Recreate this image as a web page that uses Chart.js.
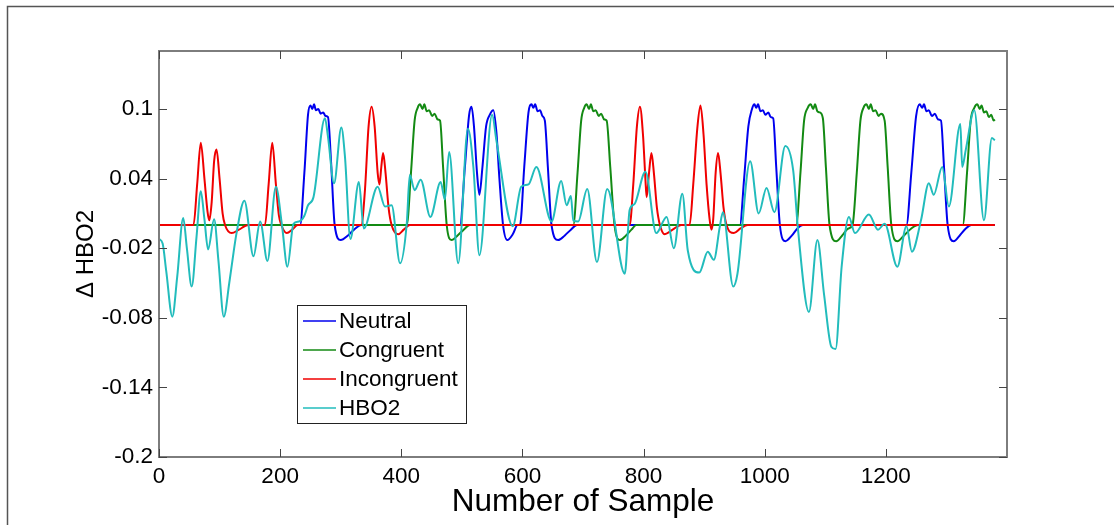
<!DOCTYPE html>
<html lang="en">
<head>
<meta charset="UTF-8">
<title>Δ HBO2 by sample</title>
<script src="https://cdn.jsdelivr.net/npm/chart.js@4"></script>
<style>
  body { margin: 0; background: #fff; }
  canvas { display: block; }
</style>
</head>
<body>
<canvas id="hboChart" width="1114" height="525"></canvas>
<script>
// tick values on both axes
const xTicks = [0, 200, 400, 600, 800, 1000, 1200];
const yTicks = [-0.2, -0.14, -0.08, -0.02, 0.04, 0.1];

const seriesNames = ['Neutral', 'Congruent', 'Incongruent', 'HBO2'];
const seriesColors = ['#0000ee', '#138a13', '#f00000', '#22bcbc'];

// [sample, value] pairs
const neutral = [
  [0, 0], [233, 0], [240, 0.045], [246, 0.095], [250, 0.103], [253, 0.100], [256, 0.104], [259, 0.099],
  [263, 0.100], [267, 0.096], [271, 0.097], [275, 0.094], [279, 0.093], [284, 0.055], [290, 0],
  [300, -0.013], [312, -0.009], [322, -0.004], [334, 0],
  [497, 0], [505, 0.05], [512, 0.095], [516, 0.102], [520, 0.085], [525, 0.045], [529, 0.026], [534, 0.05],
  [540, 0.085], [546, 0.095], [552, 0.099], [557, 0.08], [562, 0.04], [568, 0], [575, -0.013], [584, -0.008], [592, 0],
  [596, 0], [603, 0.05], [610, 0.097], [615, 0.104], [618, 0.101], [621, 0.104], [625, 0.098], [629, 0.099],
  [633, 0.094], [637, 0.090], [642, 0.05], [648, 0], [659, -0.013], [670, -0.009], [680, -0.004], [690, 0],
  [959, 0], [966, 0.04], [973, 0.085], [979, 0.1], [983, 0.104], [986, 0.101], [989, 0.104], [993, 0.098],
  [997, 0.099], [1001, 0.095], [1006, 0.097], [1010, 0.093], [1014, 0.092], [1019, 0.05], [1025, 0],
  [1034, -0.014], [1045, -0.009], [1054, -0.003], [1063, 0],
  [1234, 0], [1242, 0.045], [1250, 0.094], [1256, 0.104], [1260, 0.101], [1263, 0.104], [1267, 0.098],
  [1271, 0.099], [1276, 0.094], [1281, 0.096], [1286, 0.091], [1291, 0.090], [1296, 0.05], [1302, 0],
  [1312, -0.014], [1322, -0.009], [1332, -0.003], [1341, 0], [1380, 0]
];

const congruent = [
  [0, 0], [409, 0], [416, 0.045], [422, 0.09], [427, 0.101], [431, 0.104], [435, 0.100], [438, 0.104],
  [442, 0.098], [446, 0.099], [451, 0.094], [455, 0.096], [460, 0.091], [464, 0.090], [469, 0.05], [475, 0],
  [483, -0.013], [493, -0.009], [503, -0.004], [513, 0],
  [684, 0], [691, 0.045], [697, 0.09], [702, 0.101], [706, 0.104], [710, 0.100], [713, 0.104], [717, 0.098],
  [721, 0.099], [726, 0.094], [730, 0.096], [735, 0.091], [739, 0.090], [745, 0.05], [752, 0],
  [761, -0.013], [771, -0.009], [780, -0.004], [788, 0],
  [1052, 0], [1059, 0.045], [1065, 0.09], [1071, 0.101], [1076, 0.104], [1080, 0.100], [1083, 0.104],
  [1087, 0.098], [1091, 0.097], [1096, 0.092], [1101, 0.05], [1107, 0], [1118, -0.014], [1128, -0.009],
  [1138, -0.003], [1145, 0],
  [1152, 0.045], [1158, 0.09], [1163, 0.101], [1168, 0.104], [1172, 0.100], [1175, 0.104], [1179, 0.098],
  [1183, 0.099], [1188, 0.094], [1192, 0.096], [1198, 0.090], [1203, 0.05], [1209, 0], [1219, -0.014],
  [1230, -0.009], [1242, -0.003], [1253, 0],
  [1327, 0], [1334, 0.045], [1340, 0.09], [1346, 0.101], [1351, 0.104], [1355, 0.100], [1358, 0.103],
  [1362, 0.097], [1366, 0.098], [1370, 0.093], [1374, 0.095], [1378, 0.090], [1380, 0.091]
];

const incongruent = [
  [0, 0], [57, 0], [63, 0.035], [69, 0.071], [75, 0.04], [80, 0.012], [83, 0.004], [87, 0.02], [91, 0.055],
  [95, 0.065], [100, 0.04], [105, 0.01], [109, 0], [120, -0.007], [132, -0.004], [147, 0],
  [175, 0], [181, 0.035], [187, 0.071], [193, 0.035], [198, 0.008], [202, 0], [211, -0.007], [220, -0.004], [229, 0],
  [334, 0], [340, 0.03], [346, 0.085], [351, 0.102], [356, 0.085], [361, 0.045], [364, 0.035], [367, 0.05],
  [370, 0.062], [374, 0.045], [379, 0.015], [384, 0], [395, -0.008], [404, -0.004], [414, 0],
  [777, 0], [783, 0.035], [789, 0.085], [794, 0.102], [799, 0.078], [803, 0.04], [805, 0.024], [809, 0.045],
  [813, 0.062], [817, 0.045], [822, 0.015], [827, 0], [835, -0.008], [848, -0.004], [862, 0],
  [876, 0], [882, 0.035], [889, 0.085], [894, 0.103], [899, 0.078], [904, 0.035], [909, 0.005], [912, -0.004],
  [915, 0.005], [919, 0.045], [923, 0.062], [927, 0.045], [932, 0.015], [937, 0], [949, -0.007], [960, -0.003],
  [972, 0], [1380, 0]
];

const hbo2 = [
  [0, -0.012], [6, -0.016], [12, -0.04], [22, -0.079], [30, -0.045], [40, 0.006], [46, -0.02], [54, -0.053],
  [62, -0.01], [69, 0.029], [75, 0.005], [81, -0.021], [91, 0.005], [98, -0.03], [107, -0.079], [116, -0.05],
  [123, -0.024], [128, -0.007], [141, 0.021], [156, -0.027], [167, 0.003], [179, -0.031], [193, 0.033],
  [203, 0.0], [212, -0.036], [222, 0.001], [231, 0.003], [240, 0.008], [246, 0.017], [255, 0.024],
  [274, 0.092], [279, 0.076], [289, 0.036], [301, 0.084], [307, 0.059], [316, -0.012], [330, 0.037],
  [338, -0.003], [361, 0.033], [373, 0.016], [384, 0.017], [398, -0.033], [409, 0.001], [414, 0.043],
  [422, 0.030], [432, 0.039], [448, 0.007], [465, 0.037], [472, 0.022], [479, 0.063], [494, -0.033],
  [510, 0.083], [519, 0.050], [529, -0.026], [550, 0.095], [557, 0.073], [584, -0.001], [598, 0.033],
  [610, 0.035], [623, 0.050], [648, 0.003], [664, 0.038], [673, 0.017], [680, 0.025], [684, 0.004],
  [692, 0.003], [707, 0.031], [723, -0.032], [740, 0.031], [769, -0.042], [777, 0.013], [785, 0.018],
  [803, 0.046], [821, -0.007], [838, 0.007], [850, -0.020], [864, 0.027], [873, -0.022], [892, -0.041],
  [906, -0.023], [916, -0.030], [926, -0.001], [931, 0.011], [948, -0.053], [955, -0.042], [976, 0.055],
  [990, 0.010], [1003, 0.032], [1016, 0.011], [1034, 0.068], [1047, 0.047], [1055, -0.004], [1073, -0.075],
  [1087, -0.013], [1098, -0.06], [1110, -0.105], [1117, -0.107], [1127, -0.036], [1139, 0.007],
  [1149, -0.007], [1172, 0.009], [1187, -0.004], [1198, 0.001], [1219, -0.036], [1234, -0.001],
  [1243, -0.023], [1258, 0.004], [1271, 0.036], [1279, 0.026], [1293, 0.050], [1304, 0.016], [1323, 0.087],
  [1326, 0.050], [1332, 0.065], [1346, 0.099], [1362, 0.004], [1375, 0.075], [1380, 0.073]
];

const seriesData = [neutral, congruent, incongruent, hbo2];
const FONT = '"Liberation Sans", Arial, sans-serif';

// MATLAB-ish axes: box, inward ticks on all sides, legend inside the plot, figure frame
const matlabAxes = {
  id: 'matlabAxes',
  afterDraw(chart) {
    const { ctx, chartArea: a, scales: { x, y } } = chart;
    ctx.save();
    ctx.strokeStyle = '#555';
    ctx.lineWidth = 1.5;
    ctx.strokeRect(7.5, 6.5, 1200, 600);

    ctx.strokeStyle = '#7d7d7d';
    ctx.lineWidth = 2;
    ctx.strokeRect(a.left, a.top, a.right - a.left, a.bottom - a.top);

    ctx.lineWidth = 1;
    ctx.strokeStyle = '#444';
    ctx.beginPath();
    xTicks.forEach(v => {
      const px = Math.round(x.getPixelForValue(v)) + 0.5;
      ctx.moveTo(px, a.bottom); ctx.lineTo(px, a.bottom - 8);
      ctx.moveTo(px, a.top); ctx.lineTo(px, a.top + 8);
    });
    yTicks.forEach(v => {
      const py = Math.round(y.getPixelForValue(v)) + 0.5;
      ctx.moveTo(a.left, py); ctx.lineTo(a.left + 8, py);
      ctx.moveTo(a.right, py); ctx.lineTo(a.right - 8, py);
    });
    ctx.stroke();

    // legend box
    const lx = a.left + 138, ly = a.top + 254, lw = 169, lh = 118, row = 29;
    ctx.fillStyle = '#fff';
    ctx.fillRect(lx, ly, lw, lh);
    ctx.strokeStyle = '#222';
    ctx.lineWidth = 1;
    ctx.strokeRect(lx + 0.5, ly + 0.5, lw, lh);
    ctx.font = '22.5px ' + FONT;
    ctx.textBaseline = 'middle';
    ctx.textAlign = 'left';
    seriesNames.forEach((name, i) => {
      const cy = ly + 16 + i * row;
      ctx.strokeStyle = seriesColors[i];
      ctx.lineWidth = 1.5;
      ctx.beginPath();
      ctx.moveTo(lx + 6, cy); ctx.lineTo(lx + 39, cy);
      ctx.stroke();
      ctx.fillStyle = '#000';
      ctx.fillText(name, lx + 42, cy + 1);
    });
    ctx.restore();
  }
};

new Chart(document.getElementById('hboChart'), {
  type: 'line',
  data: {
    datasets: seriesData.map((pts, i) => ({
      label: seriesNames[i],
      data: pts.map(([sx, sy]) => ({ x: sx, y: sy })),
      borderColor: seriesColors[i],
      backgroundColor: seriesColors[i],
      borderWidth: 2,
      pointRadius: 0,
      cubicInterpolationMode: 'monotone',
      // later series sit on top, like MATLAB plot order
      order: seriesNames.length - i
    }))
  },
  options: {
    responsive: false,
    animation: false,
    devicePixelRatio: 1,
    layout: { padding: { left: 72, top: 51, right: 107, bottom: 0 } },
    plugins: { legend: { display: false }, tooltip: { enabled: false } },
    scales: {
      x: {
        type: 'linear',
        min: 0,
        max: 1400,
        afterBuildTicks: s => { s.ticks = xTicks.map(v => ({ value: v })); },
        afterFit: s => { s.height = 68; },
        grid: { display: false, drawTicks: false },
        border: { display: false },
        ticks: { color: '#000', padding: 6, maxRotation: 0, font: { family: FONT, size: 22.5 }, callback: v => String(v) },
        title: { display: true, text: 'Number of Sample', color: '#000', padding: { top: 0, bottom: 4 }, font: { family: FONT, size: 31.5 } }
      },
      y: {
        min: -0.2,
        max: 0.15,
        afterBuildTicks: s => { s.ticks = yTicks.map(v => ({ value: v })); },
        afterFit: s => { s.width = 87; },
        grid: { display: false, drawTicks: false },
        border: { display: false },
        ticks: { color: '#000', padding: 6, font: { family: FONT, size: 22.5 }, callback: v => String(v) },
        title: { display: true, text: 'Δ HBO2', color: '#000', padding: { top: 0, bottom: 0 }, font: { family: FONT, size: 24 } }
      }
    }
  },
  plugins: [matlabAxes]
});
</script>
</body>
</html>
